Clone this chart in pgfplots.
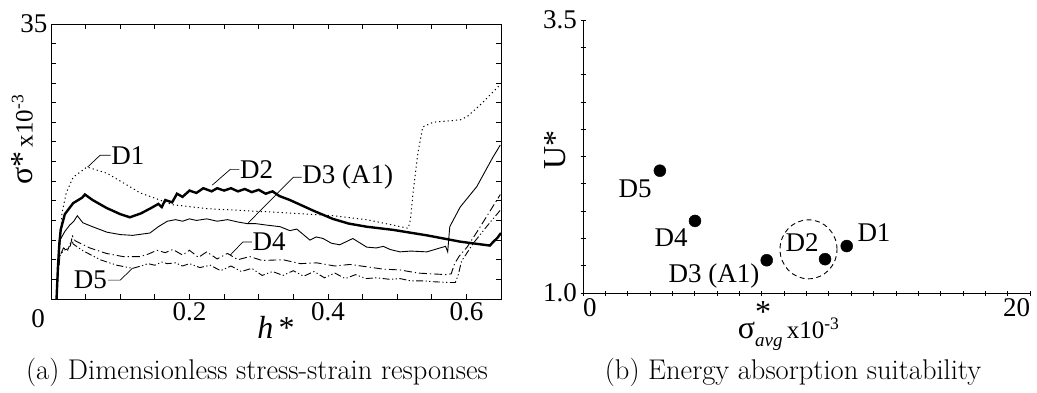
\documentclass[border=0pt]{standalone}
\usepackage{pgfplots}
\pgfplotsset{compat=1.18}
\usepackage{fontspec}
\newfontfamily\tnr{Liberation Serif}
\newcommand\fs[1]{\fontsize{#1}{#1}\selectfont}

% stress-strain responses, h* against sigma* (x10^-3)
\pgfplotstableread{
h sig
0.008 0
0.010 4
0.013 7
0.016 11
0.022 13.5
0.032 15.5
0.052 16.8
0.081 16.0
0.129 13.5
0.176 12.0
0.225 11.5
0.312 11.1
0.407 10.6
0.456 10.1
0.516 9.0
0.519 10.0
0.523 13.5
0.530 18.6
0.537 21.9
0.552 22.5
0.591 22.8
0.601 23.2
0.620 24.7
0.649 27.3
}\DOne
\pgfplotstableread{
h sig
0.008 0
0.010 4
0.012 7
0.014 8.8
0.020 10.8
0.032 12.2
0.045 12.9
0.049 13.3
0.060 12.6
0.080 11.6
0.100 10.8
0.114 10.4
0.130 10.9
0.145 11.6
0.155 12.1
0.160 11.7
0.165 12.6
0.175 12.3
0.182 13.4
0.190 13.0
0.200 13.8
0.210 13.5
0.220 14.1
0.232 13.7
0.240 14.1
0.250 13.8
0.260 14.1
0.270 13.7
0.280 14.0
0.290 13.6
0.300 13.9
0.310 13.4
0.320 13.7
0.330 13.1
0.345 12.6
0.360 12.0
0.380 11.2
0.407 10.2
0.430 9.6
0.456 9.2
0.494 8.8
0.543 8.1
0.591 7.3
0.634 6.8
0.638 7.2
0.645 7.8
0.650 8.4
}\DTwo
\pgfplotstableread{
h sig
0.008 0
0.010 4
0.013 7.5
0.020 8.6
0.027 9.4
0.033 9.9
0.038 10.6
0.046 9.7
0.060 9.2
0.081 8.5
0.100 8.2
0.118 8.1
0.143 8.4
0.155 9.2
0.168 9.9
0.180 10.1
0.190 9.9
0.200 10.2
0.210 10.0
0.225 10.2
0.240 9.9
0.255 10.1
0.270 9.8
0.283 9.6
0.295 9.6
0.312 9.4
0.331 9.2
0.345 8.7
0.355 8.9
0.374 7.5
0.383 7.9
0.393 7.7
0.405 7.1
0.417 6.9
0.436 7.7
0.456 6.6
0.470 6.5
0.480 6.7
0.490 6.3
0.504 6.0
0.520 6.1
0.543 6.0
0.562 6.5
0.570 6.7
0.573 6.0
0.576 9.2
0.591 11.7
0.615 14.3
0.638 18.0
0.649 19.6
}\DThree
\pgfplotstableread{
h sig
0.008 0
0.010 3.5
0.013 5.5
0.018 6.5
0.024 6.2
0.028 6.8
0.031 8.0
0.035 7.4
0.056 6.5
0.080 5.8
0.104 5.4
0.129 5.4
0.140 5.7
0.153 6.2
0.165 5.9
0.176 6.3
0.190 5.6
0.200 6.2
0.213 5.3
0.225 6.0
0.240 5.1
0.255 5.8
0.270 5.0
0.287 5.4
0.305 4.9
0.335 5.0
0.360 4.5
0.384 4.6
0.410 4.2
0.432 4.4
0.456 4.1
0.480 3.8
0.504 3.7
0.530 3.3
0.550 3.2
0.572 3.1
0.578 3.2
0.583 4.5
0.590 5.5
0.601 6.6
0.615 8.5
0.630 10.6
0.649 13.3
}\DFour
\pgfplotstableread{
h sig
0.008 0
0.010 3
0.013 5.5
0.018 6.2
0.025 6.4
0.030 7.6
0.032 7.0
0.045 6.2
0.071 5.0
0.095 4.3
0.118 3.9
0.130 4.2
0.140 4.5
0.150 4.3
0.160 4.7
0.168 4.5
0.180 4.6
0.190 4.2
0.200 4.5
0.215 4.0
0.230 4.3
0.245 3.6
0.260 4.2
0.275 3.5
0.290 3.9
0.305 3.0
0.320 3.5
0.335 3.0
0.350 3.6
0.365 2.9
0.380 3.5
0.395 2.7
0.410 3.3
0.425 2.6
0.440 3.1
0.455 2.6
0.470 2.7
0.490 2.5
0.504 2.6
0.520 2.3
0.540 2.3
0.552 2.2
0.575 2.1
0.584 2.1
0.588 3.0
0.593 4.8
0.610 7.1
0.630 9.3
0.649 11.3
}\DFive

% energy absorption: sigma*_avg (x10^-3) against U*
\pgfplotstableread{
s u
11.8 1.43
10.83 1.31
8.22 1.30
5.01 1.66
3.44 2.12
}\Suit

\begin{document}
\begin{tikzpicture}[x=1pt,y=1pt]
\path[use as bounding box] (0,0) rectangle (1037,392);
\pgfplotsset{
  chart/.style={scale only axis, anchor=south west, clip=false,
    font=\tnr\fs{26}, tick label style={font=\tnr\fs{27}},
    tick align=inside, tick style={black, line width=0.8pt},
    major tick length=5pt, minor tick length=5pt,
    axis line style={line width=1pt}},
}
% (a) stress-strain responses
\begin{axis}[chart, at={(51pt,93pt)}, width=450pt, height=275pt,
  xmin=0, xmax=0.65, ymin=0, ymax=35,
  xtick={0,0.05,0.1,0.15,0.2,0.25,0.3,0.35,0.4,0.45,0.5,0.55,0.6},
  xticklabels={,,,,0.2,,,,0.4,,,,0.6},
  ytick={0,2.5,5,7.5,10,12.5,15,17.5,20,22.5,25,27.5,30,32.5,35},
  yticklabels={,,,,,,,,,,,,,,35},
  xlabel={\fs{32}\itshape h\upshape\,*},
  xlabel style={at={(axis description cs:0.50,-0.105)}, anchor=center},
  ylabel={{\fs{32}σ*}{\fs{25}\,x10\textsuperscript{-3}}},
  ylabel style={at={(axis description cs:-0.064,0.58)}, anchor=center},
]
\addplot[black, line width=1pt, dash pattern=on 1.2pt off 3pt] table[x=h,y=sig] {\DOne};
\addplot[black, line width=2.4pt] table[x=h,y=sig] {\DTwo};
\addplot[black, line width=0.9pt] table[x=h,y=sig] {\DThree};
\addplot[black, line width=0.9pt, dash pattern=on 8pt off 3pt on 1.2pt off 3pt] table[x=h,y=sig] {\DFour};
\addplot[black, line width=0.9pt, dash pattern=on 7pt off 2.5pt on 1.2pt off 2.5pt on 1.2pt off 2.5pt] table[x=h,y=sig] {\DFive};
\node[font=\tnr\fs{27}] at (axis cs:0,0) [xshift=-13pt, yshift=-20pt] {0};
% curve labels and leaders
\draw[line width=0.7pt] (axis cs:0.053,16.8) -- (axis cs:0.071,18.3) -- (axis cs:0.086,18.3)
  node[anchor=west, inner sep=0.5pt, font=\tnr\fs{27}] {D1};
\draw[line width=0.7pt] (axis cs:0.233,14.5) -- (axis cs:0.259,16.5) -- (axis cs:0.272,16.5)
  node[anchor=west, inner sep=0.5pt, font=\tnr\fs{27}] {D2};
\draw[line width=0.7pt] (axis cs:0.285,9.7) -- (axis cs:0.35,15.5) -- (axis cs:0.362,15.5)
  node[anchor=west, inner sep=0.5pt, font=\tnr\fs{27}] {D3 (A1)};
\draw[line width=0.7pt] (axis cs:0.259,5.6) -- (axis cs:0.277,7.25) -- (axis cs:0.29,7.25)
  node[anchor=west, inner sep=0.5pt, font=\tnr\fs{27}] {D4};
\draw[line width=0.7pt] (axis cs:0.118,3.95) -- (axis cs:0.1,2.4) -- (axis cs:0.082,2.4)
  node[anchor=east, inner sep=0.5pt, font=\tnr\fs{27}] {D5};
\end{axis}

% (b) energy absorption suitability
\begin{axis}[chart, at={(583pt,99pt)}, width=447pt, height=273pt,
  axis lines=left, axis line style={-, line width=1pt},
  xmin=0, xmax=20, ymin=1, ymax=3.5,
  xtick={0,20}, xticklabels={\hphantom{0}0,20\hphantom{00}},
  minor xtick={1,2,3,4,5,6,7,8,9,10,11,12,13,14,15,16,17,18,19},
  ytick={1,3.5}, yticklabels={1.0,3.5},
  minor ytick={1.25,1.5,1.75,2,2.25,2.5,2.75,3,3.25},
  xlabel={{\fs{32}σ\rlap{\raisebox{1.1ex}{*}}\raisebox{-0.55ex}{\fs{19}\itshape avg}}{\fs{25}\,x10\textsuperscript{-3}}},
  xlabel style={at={(axis description cs:0.46,-0.12)}, anchor=center},
  ylabel={\fs{32}U*},
  ylabel style={at={(axis description cs:-0.063,0.524)}, anchor=center},
]
\addplot[only marks, mark=*, mark size=6pt, black] table[x=s,y=u] {\Suit};
\draw[line width=0.9pt, dash pattern=on 5pt off 3.5pt] (axis cs:10.09,1.40) ellipse [x radius=28.5pt, y radius=29.5pt];
\node[font=\tnr\fs{27}] at (axis cs:13.02,1.55) {D1};
\node[font=\tnr\fs{27}] at (axis cs:9.8,1.46) {D2};
\node[font=\tnr\fs{27}] at (axis cs:5.86,1.16) {D3 (A1)};
\node[font=\tnr\fs{27}] at (axis cs:3.94,1.51) {D4};
\node[font=\tnr\fs{27}] at (axis cs:2.33,1.95) {D5};
\end{axis}

\node[font=\fs{28.5}] at (257,20) {(a) Dimensionless stress-strain responses};
\node[font=\fs{28.5}] at (793,20) {(b) Energy absorption suitability};
\end{tikzpicture}
\end{document}
